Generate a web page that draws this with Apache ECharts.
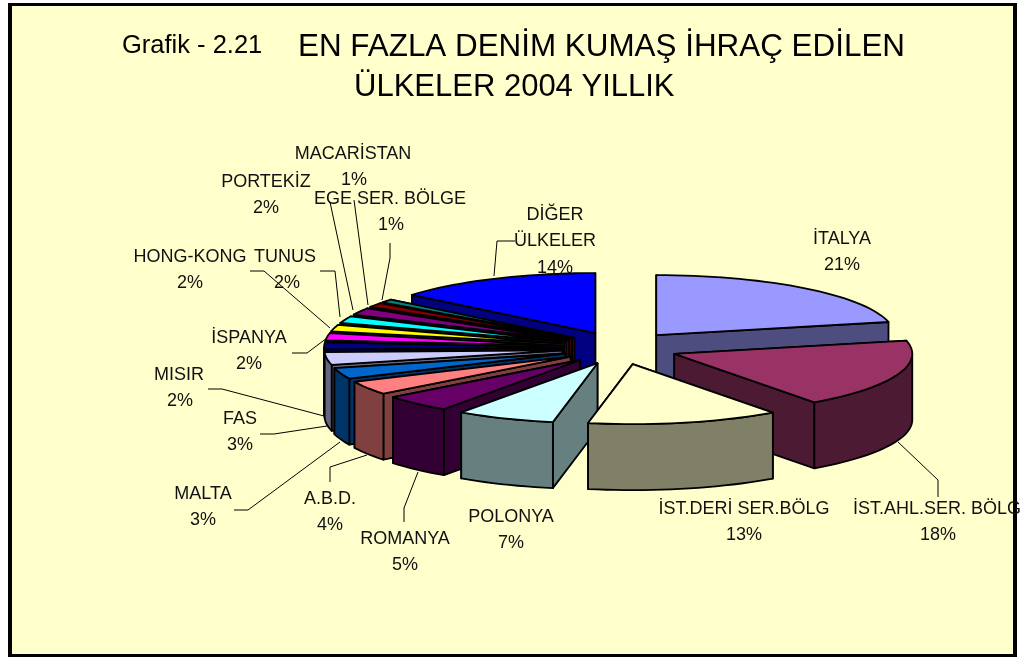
<!DOCTYPE html>
<html><head><meta charset="utf-8">
<style>html,body{margin:0;padding:0;background:#fff}#c{width:1024px;height:657px}</style>
<script src="https://cdn.jsdelivr.net/npm/echarts@6/dist/echarts.min.js"></script>
</head><body><div id="c"></div>
<script>
const categories = ['İTALYA','İST.AHL.SER. BÖLG','İST.DERİ SER.BÖLG','POLONYA','ROMANYA','A.B.D.','MALTA','FAS','MISIR','İSPANYA','HONG-KONG','TUNUS','PORTEKİZ','MACARİSTAN','EGE SER. BÖLGE','DİĞER\nÜLKELER'];
const values = [21.49,18.49,13.02,6.7,4.7,3.7,3.0,3.4,1.9,1.9,1.8,1.9,1.9,1.2,0.9,14.0];
const topColors = ['#9999FF','#993366','#FFFFCC','#CCFFFF','#660066','#FF8080','#0066CC','#CCCCFF','#000080','#FF00FF','#FFFF00','#00FFFF','#800080','#800000','#008080','#0000FF'];
const sideColors = ['#4D4D80','#4D1A33','#808066','#668080','#330033','#804040','#003366','#666680','#000040','#800080','#808000','#008080','#400040','#400000','#004040','#000080'];
// label layout: x centre of name, y centre of first line, x centre of percent
const labelAt = [[842,239,842],[937,509,938],[744,509,744],[511,517,511],[405,539,405],[330,499,330],[203,494,203],[240,419,240],[179,375,180],[249,338,249],[190,257,190],[285,257,287],[266,182,266],[353,154,354],[390,199,391],[555,215,555]];
const leaders = [[[515,241],[497,241],[494,276]],[[898,442],[938,480],[938,497]],[[250,271],[264,271],[330,328]],[[320,271],[335,271],[340,317]],[[330,202],[353,310]],[[354,200],[368,305]],[[390,243],[390,258],[382,300]],[[292,353],[307,353],[327,338]],[[208,389],[222,389],[324,416]],[[260,434],[274,434],[327,426]],[[234,510],[248,510],[340,442]],[[330,482],[330,467],[367,455]],[[404,522],[404,508],[418,472]]];

const pie = {cx:620, cy:348, a:238, b:60, ex:58, ey:16.5, depth:66};
const total = values.reduce((s,v)=>s+v,0);
const starts = []; let acc = 0;
values.forEach(v=>{starts.push(acc); acc += v/total*Math.PI*2;});
const mid = i => starts[i] + values[i]/total*Math.PI;
const order = values.map((_,i)=>i).sort((p,q)=>(-Math.cos(mid(p)))-(-Math.cos(mid(q))));

function renderSlice(params, api){
  const i = api.value(0);
  const t0 = starts[i], t1 = t0 + values[i]/total*Math.PI*2, m = mid(i);
  const ox = pie.cx + pie.ex*Math.sin(m), oy = pie.cy - pie.ey*Math.cos(m);
  const P = t => [ox + pie.a*Math.sin(t), oy - pie.b*Math.cos(t)];
  const down = p => [p[0], p[1]+pie.depth];
  const arc = (s,e) => { const n = Math.max(2,Math.ceil((e-s)/0.04)); const r=[]; for(let k=0;k<=n;k++) r.push(P(s+(e-s)*k/n)); return r; };
  const edge = {stroke:'#000', lineWidth:1.8, lineJoin:'round'};
  const poly = (points, fill) => ({type:'polygon', silent:true, shape:{points}, style:Object.assign({fill},edge)});
  const apex = [ox,oy], children = [];
  [t0,t1].sort((u,v)=>(-Math.cos(u))-(-Math.cos(v))).forEach(t=>{
    const e = P(t);
    children.push(poly([apex,e,down(e),down(apex)], sideColors[i]));
  });
  const s = Math.max(t0,Math.PI/2), e = Math.min(t1,Math.PI*1.5);
  if (e > s) { const r = arc(s,e); children.push(poly(r.concat(r.slice().reverse().map(down)), sideColors[i])); }
  children.push(poly([apex].concat(arc(t0,t1)), topColors[i]));
  return {type:'group', children};
}
function renderLabel(params, api){
  const i = api.value(0), at = labelAt[i], lines = categories[i].split('\n'), lh = 26.5;
  const font = {fontFamily:'Liberation Sans', fontSize:18, fill:'#111', align:'center', verticalAlign:'middle'};
  const children = lines.map((t,k)=>({type:'text', silent:true, style:Object.assign({text:t,x:at[0],y:at[1]+k*lh},font)}));
  children.push({type:'text', silent:true, style:Object.assign({text:Math.round(values[i]/total*100)+'%',x:at[2],y:at[1]+lines.length*lh},font)});
  return {type:'group', children};
}
function renderLeader(params, api){
  const pts = leaders[api.value(0)];
  return {type:'polyline', silent:true, shape:{points:pts}, style:{stroke:'#000', lineWidth:1, fill:null}};
}
const titleFont = {fontFamily:'Liberation Sans', fontWeight:'normal', color:'#000'};
const chart = echarts.init(document.getElementById('c'),null,{renderer:'canvas'});
chart.setOption({
  animation:false,
  backgroundColor:'#fff',
  title:[
    {text:'Grafik - 2.21', left:122, top:33, padding:0, textStyle:Object.assign({fontSize:25.5},titleFont)},
    {text:'EN FAZLA DENİM KUMAŞ İHRAÇ EDİLEN', left:298, top:32, padding:0, textStyle:Object.assign({fontSize:31.4},titleFont)},
    {text:'ÜLKELER 2004 YILLIK', left:354, top:72, padding:0, textStyle:Object.assign({fontSize:31},titleFont)}
  ],
  graphic:[
    {type:'rect', z:-10, silent:true, shape:{x:8,y:3,width:1009,height:654}, style:{fill:'#000'}},
    {type:'rect', z:-9, silent:true, shape:{x:12,y:6,width:1001,height:648}, style:{fill:'#FFFFCC'}}
  ],
  series:[
    {type:'custom', coordinateSystem:'none', z:1, data:categories.map((_,i)=>[i]), renderItem:renderLabel},
    {type:'custom', coordinateSystem:'none', z:2, data:leaders.map((_,i)=>[i]), renderItem:renderLeader},
    {type:'custom', coordinateSystem:'none', z:3, data:order.map(i=>[i]), renderItem:renderSlice}
  ]
});
</script></body></html>
